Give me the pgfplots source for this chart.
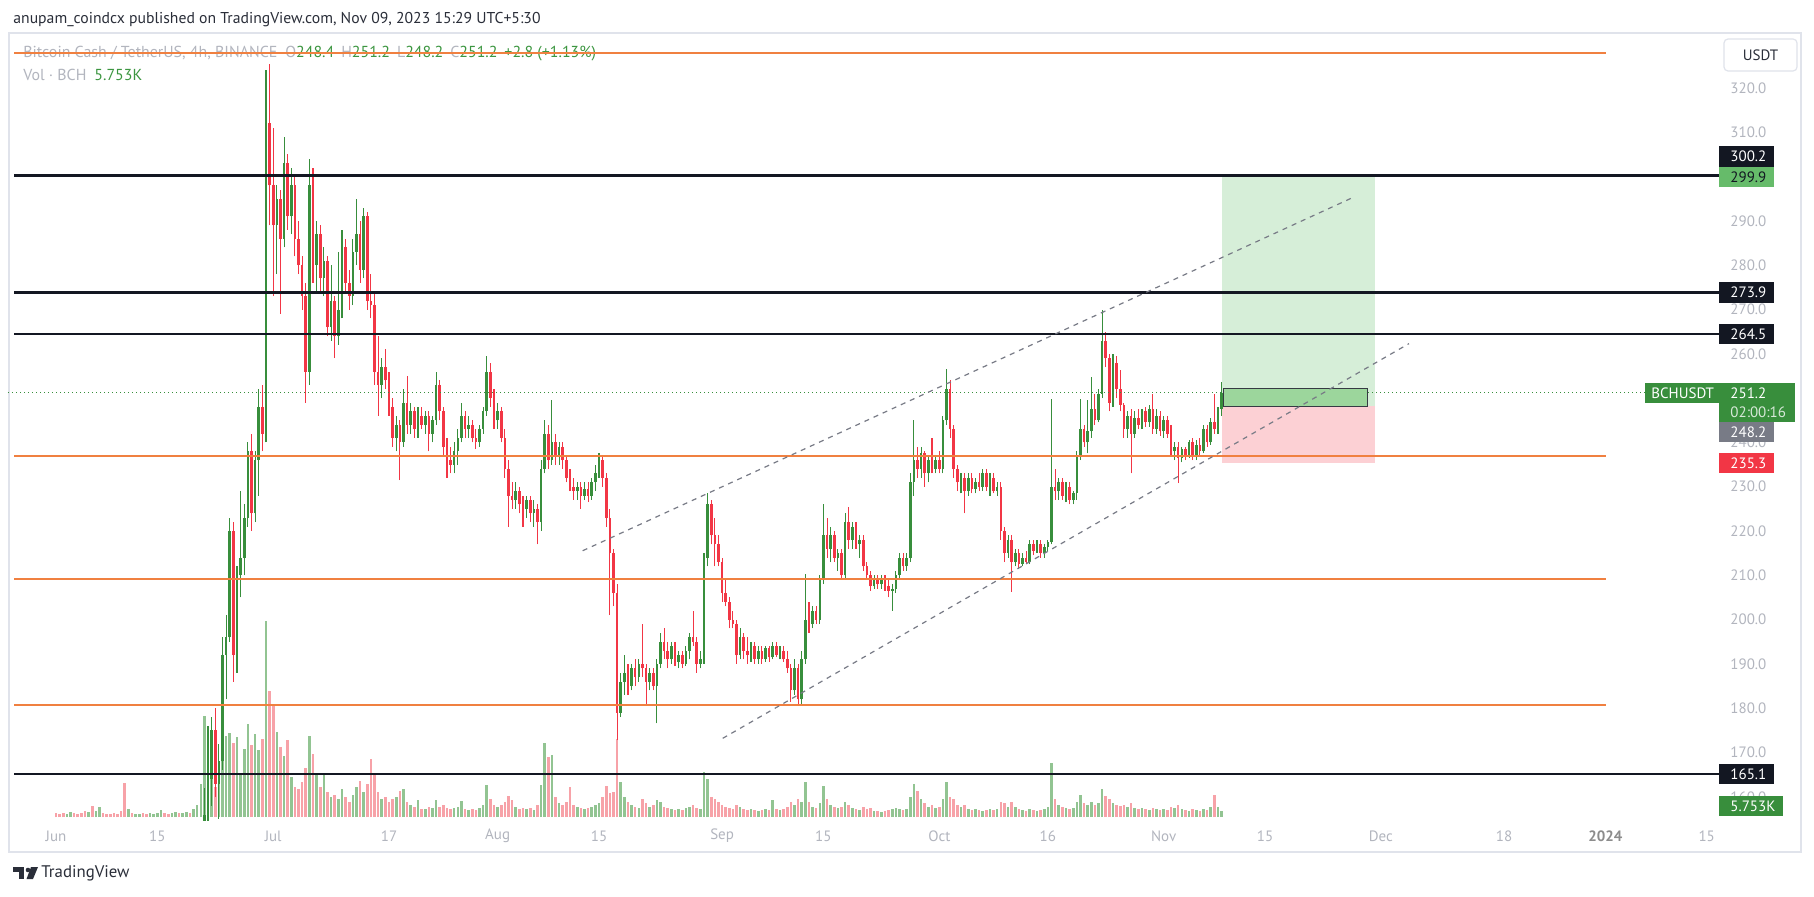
\documentclass[border=0pt]{standalone}
\usepackage{pgfplots}
\pgfplotsset{compat=1.18}
\usepackage{pgfplotstable}
\usepackage{fontspec}
\setmainfont{PT Sans}

\definecolor{cup}{RGB}{56,142,60}
\definecolor{cdn}{RGB}{242,54,69}
\definecolor{vup}{RGB}{146,196,146}
\definecolor{vdn}{RGB}{247,162,168}
\definecolor{lvlorange}{RGB}{240,128,64}
\definecolor{lvlblack}{RGB}{19,23,34}
\definecolor{tickc}{RGB}{178,181,190}
\definecolor{framec}{RGB}{224,227,235}
\definecolor{posg}{RGB}{214,238,216}
\definecolor{posr}{RGB}{252,208,212}
\definecolor{posd}{RGB}{156,214,156}
\definecolor{dashc}{RGB}{120,123,134}
\definecolor{lblgreen}{RGB}{102,187,106}
\definecolor{lblgray}{RGB}{120,123,134}
\definecolor{lblred}{RGB}{242,54,69}
\definecolor{pgreen}{RGB}{56,142,60}
\definecolor{hdr}{RGB}{42,46,57}
\definecolor{lg}{RGB}{60,150,64}

\pgfplotstableread{
d o h l c v
0 116 117 114 115 4
0.5 115 116 113 114 3
1 114 115 112 113 4
1.5 113 115 112 114 3
2 114 116 113 115 5
2.5 115 116 113 114 4
3 114 115 112 113 3
3.5 113 114 111 112 4
4 112 113 108 109 6
4.5 109 111 107 110 5
5 110 111 104 105 11
5.5 105 108 104 107 6
6 107 110 106 109 10
6.5 109 110 106 107 4
7 107 108 105 106 3
7.5 106 107 104 105 3
8 105 106 103 104 4
8.5 104 105 102 103 3
9 103 104 100 101 6
9.5 101 102 94 97 34
10 97 100 96 99 8
10.5 99 100 97 98 4
11 98 100 97 99 3
11.5 99 101 98 100 3
12 100 101 98 99 4
12.5 99 100 97 98 3
13 98 100 97 99 4
13.5 99 101 98 100 3
14 100 102 99 101 4
14.5 101 104 100 103 7
15 103 104 101 102 4
15.5 102 103 100 101 3
16 101 104 100 103 4
16.5 103 106 102 105 5
17 105 106 103 104 4
17.5 104 107 103 106 4
18 106 108 105 107 5
18.5 107 108 105 106 4
19 106 112 105 111 8
19.5 111 124 110 122 12
20 122 133 120 130 33
20.5 130 162 128 156 101
21 156 176 150 164 40
21.5 164 178 158 175 60
22 175 180 160 163 30
22.5 163 172 155 168 43
23 168 196 166 192 60
23.5 192 201 182 196 81
24 196 223 195 220 84
24.5 220 222 186 192 74
25 192 212 188 210 80
25.5 210 229 205 214 43
26 214 226 210 223 68
26.5 223 240 221 238 93
27 238 242 220 224 72
27.5 224 238 222 236 83
28 236 252 228 248 67
28.5 248 253 238 242 78
29 242 324 240 312 196
29.5 312 325.5 289 298 126
30 298 311 273 289 113
30.5 289 298 278 295 85
31 295 297 269 286 70
31.5 286 309 284 303 61
32 303 305 288 291 77
32.5 291 302 287 298 40
33 298 300 282 286 30
33.5 286 290 278 280 28
34 280 282 270 273 35
34.5 273 276 249 256 49
35 256 304 253 298 81
35.5 298 302 276 280 63
36 280 290 274 287 42
36.5 287 289 274 277 30
37 277 284 273 281 42
37.5 281 282 264 266 25
38 266 280 263 272 20
38.5 272 273 259 264 22
39 264 283 262 270 18
39.5 270 288 268 284 28
40 284 286 274 276 20
40.5 276 279 270 273 15
41 273 286 271 283 22
41.5 283 295 280 287 30
42 287 290 276 279 36
42.5 279 293 277 291 25
43 291 292 270 272 33
43.5 272 278 268 271 58
44 271 274 253 256 42
44.5 256 264 246 253 25
45 253 259 250 257 18
45.5 257 261 252 254 20
46 254 256 246 248 15
46.5 248 250 239 241 18
47 241 246 238 244 20
47.5 244 245 231.5 240 26
48 240 252 239 249 28
48.5 249 255 242 244 15
49 244 249 242 247 12
49.5 247 248 241 243 10
50 243 248 241 246 17
50.5 246 248 243 244 8
51 244 247 242 246 8
51.5 246 247 238 242 10
52 242 246 240 245 9
52.5 245 256 244 253 17
53 253 254 245 247 10
53.5 247 248 237 239 12
54 239 241 232 236 9
54.5 236 239 233 235 8
55 235 240 233 238 9
55.5 238 243 235 241 10
56 241 249 240 246 16
56.5 246 247 241 243 8
57 243 246 241 244 7
57.5 244 245 240 241 8
58 241 243 238.5 240 7
58.5 240 244 239 243 9
59 243 248 242 247 12
59.5 247 259.5 246 256 32
60 256 258 248 250 18
60.5 250 252 243 245 12
61 245 249 243 247 10
61.5 247 248 240 241 12
62 241 243 232 234 15
62.5 234 236 221 228 21
63 228 231 225 227 17
63.5 227 231 225 229 10
64 229 230 224 226 8
64.5 226 228 221 225 9
65 225 228 223 227 8
65.5 227 228 222 224 9
66 224 227 221 225 7
66.5 225 226 217 222 12
67 222 236 220 234 32
67.5 234 245 233 242 74
68 242 244 234 236 60
68.5 236 249.6 235 240 62
69 240 242 235 237 20
69.5 237 240 235 239 14
70 239 240 234 236 12
70.5 236 237 231 232 15
71 232 234 229 230 30
71.5 230 232 227 229 12
72 229 231 227 230 10
72.5 230 231 225 228 9
73 228 231 227 229.5 8
73.5 229.5 231 226.5 228 9
74 228 232 227 231 10
74.5 231 235 229 233 12
75 233 237.5 232 236 14
75.5 236 237 230 232 20
76 232 233 221 223 31
76.5 223 225 201 215 24
77 215 216 203 206 25
77.5 206 208 172.8 179 78
78 179 188 178 186 35
78.5 186 192 183 188 20
79 188 190 183 185 15
79.5 185 190 184 189 12
80 189 191 185 187 10
80.5 187 191 186 190 9
81 190 199 187 189 18
81.5 189 190 180.7 186 14
82 186 189 184 188 10
82.5 188 189 184 185 12
83 185 191 176.6 190 17
83.5 190 197 189 195 15
84 195 198 191 193 10
84.5 193 195 189 191 9
85 191 195 190 194 8
85.5 194 195 189.5 190.5 7
86 190.5 193 189 192 8
86.5 192 193 189 190 7
87 190 194 189.5 193 9
87.5 193 197 191 196 10
88 196 202 194 195 12
88.5 195 196 188 190 9
89 190 193 189 191 8
89.5 191 215 190 214 45
90 214 228.5 212 226 38
90.5 226 227 217 219 20
91 219 223 212 217 18
91.5 217 219 212 213 15
92 213 214 204 206 12
92.5 206 209 203 204 10
93 204 205 198 200 9
93.5 200 202 198 199 8
94 199 200 190 192 12
94.5 192 198 191 196 10
95 196 197 191 193 8
95.5 193 196 190 192 7
96 192 195 190.5 194 8
96.5 194 195 190 191 7
97 191 194 190 193 6
97.5 193 194 190 191 7
98 191 194 190.5 193.5 8
98.5 193.5 194 190.5 191.5 7
99 191.5 195 191 194 17
99.5 194 195 191.5 192 8
100 192 194 191 193 7
100.5 193 194 190.5 191 8
101 191 193 188 189 10
101.5 189 190 181.5 184 15
102 184 191 183 189 12
102.5 189 190 180.7 182 18
103 182 193 181 191 15
103.5 191 210.4 190 200 35
104 200 204 197 199 15
104.5 199 203 198 202 10
105 202 203 199 200 9
105.5 200 210 199 209 14
106 209 226 208 219 31
106.5 219 223 214 216 18
107 216 221 213 219 12
107.5 219 220 213 214 10
108 214 216 211 215 9
108.5 215 216 209 210 10
109 210 224 209 222 15
109.5 222 225.5 216 218 12
110 218 222 216 221 9
110.5 221 222 216 217 8
111 217 219 214 218 7
111.5 218 219 211 212 10
112 212 213 209 210 8
112.5 210 211 206.5 207.5 9
113 207.5 210 207 209.5 6
113.5 209.5 210 207 208 6
114 208 210 207 209 5
114.5 209 210 206.5 207.5 6
115 207.5 209 205 206.5 7
115.5 206.5 208 202 207 8
116 207 211 206 210 9
116.5 210 215 209 214 8
117 214 215 211 212 7
117.5 212 215 211 214 8
118 214 233 213 231 20
118.5 231 245 228 236 33
119 236 239 232 234 26
119.5 234 239 232 237.5 18
120 237.5 238 230 233 14
120.5 233 237 231 236 10
121 236 241 233 234 12
121.5 234 237 233 236 9
122 236 238 233 234 10
122.5 234 246 233 245 18
123 245 256.6 244 252 35
123.5 252 254 241 243 20
124 243 244 232 234 18
124.5 234 235 229 231 12
125 231 233 228.5 232 10
125.5 232 233 224 229 12
126 229 233 228 232 8
126.5 232 233 228.5 229.5 7
127 229.5 232 228.5 231 8
127.5 231 233 229 230 7
128 230 234 229 233 6
128.5 233 234 229 230 7
129 230 233 228 232 8
129.5 232 233 228.5 229 7
130 229 231 228 230 8
130.5 230 231 218 220 15
131 220 221 213 215 14
131.5 215 219 214 218 10
132 218 219 206.3 213 15
132.5 213 216 212 215 10
133 215 216 211.5 212.5 8
133.5 212.5 215 212 214 7
134 214 215.5 212.5 213 6
134.5 213 218 212.5 217 8
135 217 218 214.5 215.5 7
135.5 215.5 218 215 217 6
136 217 218 214 215 7
136.5 215 217 214 216.5 8
137 216.5 218 215.5 217.5 10
137.5 217.5 249.7 217 230 54
138 230 234 227 229 18
138.5 229 232 227 231 12
139 231 232 227 228 10
139.5 228 231 226.5 230 9
140 230 231 226 227 8
140.5 227 229 226 228.5 9
141 228.5 238 227 237 15
141.5 237 249.7 236 243 22
142 243 244 239 240 14
142.5 240 249.6 237.5 242.5 12
143 242.5 254.8 241 247.5 15
143.5 247.5 251 244 245 12
144 245 252 244.5 251 14
144.5 251 269.9 250 263 28
145 263 265 257 259 21
145.5 259 260 247 249 18
146 249 260 248 258 14
146.5 258 259.5 250 252 12
147 252 256.3 247 248.5 11
147.5 248.5 249 241 243 12
148 243 247 241 246 10
148.5 246 247.5 233 242 14
149 242 247 241 245.5 9
149.5 245.5 247.5 243 244 8
150 244 247.5 243 247 9
150.5 247 248 243.5 244.5 8
151 244.5 248.5 243.5 247.5 7
151.5 247.5 251 242 243 9
152 243 247.5 242 246 8
152.5 246 247 241.5 242.5 7
153 242.5 246 241 245 8
153.5 245 246 241 242 7
154 242 244 237 238 10
154.5 238 240 236 239 9
155 239 240 230.8 236.5 12
155.5 236.5 239 235.5 238.5 8
156 238.5 239 236 237 7
156.5 237 240.5 236.5 240 6
157 240 241 236 237 8
157.5 237 240.5 236 239.5 7
158 239.5 241 237 238 6
158.5 238 244 237.5 243 8
159 243 244 239 240 7
159.5 240 245.5 239.5 244.5 10
160 244.5 251 242 243 22
160.5 243 248 242 247.5 10
161 247.5 253.6 246 251.2 5.753
}\candles

\begin{document}
\begin{tikzpicture}
% ---------- background, frame, header, legend (pixel scope) ----------
\begin{scope}[shift={(0pt,448pt)}, x=0.5pt, y=-0.5pt]
\fill[white] (0,0) rectangle (1814,896);
\draw[framec, line width=1pt] (9,33.5) rectangle (1801,852);
\node[anchor=west, inner sep=0, text=hdr, font=\fontsize{7.85}{9}\selectfont] at (13,20)
  {anupam\_coindcx published on TradingView.com, Nov 09, 2023 15:29 UTC+5:30};
\node[anchor=west, inner sep=0, font=\fontsize{7.95}{9}\selectfont] at (23,53.3)
  {\textcolor{tickc}{Bitcoin Cash / TetherUS, 4h, BINANCE}\hspace{4pt}\textcolor{tickc}{O}\textcolor{lg}{248.4}\hspace{3.5pt}\textcolor{tickc}{H}\textcolor{lg}{251.2}\hspace{3.5pt}\textcolor{tickc}{L}\textcolor{lg}{248.2}\hspace{3.5pt}\textcolor{tickc}{C}\textcolor{lg}{251.2}\hspace{3.5pt}\textcolor{lg}{+2.8 (+1.13\%)}};
\node[anchor=west, inner sep=0, font=\fontsize{7.95}{9}\selectfont] at (23,75)
  {\textcolor{tickc}{Vol · BCH}\hspace{4pt}\textcolor{lg}{5.753K}};
\end{scope}

% ---------- volume pane ----------
\begin{axis}[at={(4pt,38pt)}, anchor=south west, scale only axis,
  width=855.5pt, height=393.5pt, xmin=-6.63, xmax=229.70, ymin=-3, ymax=784,
  hide axis, clip=true]
\addplot[vup, line width=1.3pt, quiver={u=0, v=\thisrow{v}},
  x filter/.expression={\thisrow{c}>=\thisrow{o} ? x : nan}]
  table[x=d, y expr=0] {\candles};
\addplot[vdn, line width=1.3pt, quiver={u=0, v=\thisrow{v}},
  x filter/.expression={\thisrow{c}<\thisrow{o} ? x : nan}]
  table[x=d, y expr=0] {\candles};
\end{axis}

% ---------- price pane ----------
\begin{axis}[at={(4pt,38pt)}, anchor=south west, scale only axis,
  width=855.5pt, height=393.5pt, xmin=-6.63, xmax=229.70, ymin=154.76, ymax=332.42,
  hide axis, clip=true]
% position tool
\addplot[fill=posg, draw=none] coordinates {(161.05,248.2) (182.2,248.2) (182.2,299.9) (161.05,299.9)};
\addplot[fill=posr, draw=none] coordinates {(161.05,235.3) (182.2,235.3) (182.2,248.2) (161.05,248.2)};
% candles: wicks
\addplot[cup, line width=0.55pt, quiver={u=0, v=\thisrow{h}-\thisrow{l}},
  x filter/.expression={\thisrow{c}>=\thisrow{o} ? x : nan}]
  table[x=d, y=l] {\candles};
\addplot[cdn, line width=0.55pt, quiver={u=0, v=\thisrow{h}-\thisrow{l}},
  x filter/.expression={\thisrow{c}<\thisrow{o} ? x : nan}]
  table[x=d, y=l] {\candles};
% candles: bodies
\addplot[cup, line width=1.3pt, quiver={u=0, v=\thisrow{c}-\thisrow{o}},
  x filter/.expression={\thisrow{c}>=\thisrow{o} ? x : nan}]
  table[x=d, y=o] {\candles};
\addplot[cdn, line width=1.3pt, quiver={u=0, v=\thisrow{o}-\thisrow{c}},
  x filter/.expression={\thisrow{c}<\thisrow{o} ? x : nan}]
  table[x=d, y=c] {\candles};
% orange levels
\addplot[lvlorange, line width=1pt] coordinates {(-5.8,327.9) (214.1,327.9)};
\addplot[lvlorange, line width=1pt] coordinates {(-5.8,236.9) (214.1,236.9)};
\addplot[lvlorange, line width=1pt] coordinates {(-5.8,209.1) (214.1,209.1)};
\addplot[lvlorange, line width=1pt] coordinates {(-5.8,180.7) (214.1,180.7)};
% black levels
\addplot[lvlblack, line width=1.35pt] coordinates {(-5.8,300.2) (229.7,300.2)};
\addplot[lvlblack, line width=1.35pt] coordinates {(-5.8,273.9) (229.7,273.9)};
\addplot[lvlblack, line width=1.35pt] coordinates {(-5.8,264.5) (229.7,264.5)};
\addplot[lvlblack, line width=1.1pt] coordinates {(-5.8,165.1) (229.7,165.1)};
% last price dotted line
\addplot[pgreen, line width=0.5pt, dash pattern=on 0.5pt off 1.5pt] coordinates {(-6.63,251.2) (219.5,251.2)};
% profit rectangle
\addplot[fill=posd, draw=lvlblack!85, line width=0.5pt] coordinates {(161.2,248.2) (181.1,248.2) (181.1,252.25) (161.2,252.25) (161.2,248.2)};
% channel
\addplot[dashc, line width=0.6pt, dash pattern=on 2.5pt off 2.5pt] coordinates {(72.75,215.55) (179.28,295.40)};
\addplot[dashc, line width=0.6pt, dash pattern=on 2.5pt off 2.5pt] coordinates {(92.09,173.20) (186.88,262.30)};
\end{axis}

% ---------- scales and labels (pixel scope) ----------
\begin{scope}[shift={(0pt,448pt)}, x=0.5pt, y=-0.5pt,
  tl/.style={anchor=west, inner sep=0, text=tickc, font=\fontsize{7.5}{9}\selectfont},
  bl/.style={anchor=west, inner sep=0, font=\fontsize{7.5}{9}\selectfont},
  xl/.style={anchor=center, inner sep=0, text=tickc, font=\fontsize{7.5}{9}\selectfont}]
% price ticks (300.0 and 250.0 lie fully under the price boxes)
\foreach \p/\Y in {320.0/88.1, 310.0/132.4, 290.0/220.9, 280.0/265.2, 270.0/309.5,
  260.0/353.8, 240.0/442.4, 230.0/486.7, 220.0/531.0, 210.0/575.3, 200.0/619.6,
  190.0/663.9, 180.0/708.2, 170.0/752.5, 160.0/796.8}
  {\node[tl] at (1730,\Y) {\p};}
% USDT button
\draw[framec, line width=0.6pt, rounded corners=2pt] (1724,39) rectangle (1797,71);
\node[anchor=center, inner sep=0, text=hdr, font=\fontsize{7.5}{9}\selectfont] at (1760.5,55) {USDT};
% price boxes
\fill[lvlblack] (1719,146) rectangle (1774,167); \node[bl, text=white] at (1730,156.5) {300.2};
\fill[lblgreen] (1719,167) rectangle (1774,187); \node[bl, text=lvlblack] at (1730,177) {299.9};
\fill[lvlblack] (1719,282) rectangle (1774,303); \node[bl, text=white] at (1730,292.5) {273.9};
\fill[lvlblack] (1719,324) rectangle (1774,344); \node[bl, text=white] at (1730,334) {264.5};
\fill[pgreen] (1645,383) rectangle (1719,403); \node[bl, text=white] at (1651,393) {BCHUSDT};
\fill[pgreen] (1719,383) rectangle (1795,422);
\node[bl, text=white] at (1730,393) {251.2};
\node[bl, text=white!80!pgreen] at (1730,412) {02:00:16};
\fill[lblgray] (1719,422) rectangle (1774,442); \node[bl, text=white] at (1730,432) {248.2};
\fill[lblred] (1719,453) rectangle (1774,473); \node[bl, text=white] at (1730,463) {235.3};
\fill[lvlblack] (1719,764) rectangle (1774,784); \node[bl, text=white] at (1730,774) {165.1};
\fill[pgreen] (1719,796) rectangle (1783,816); \node[bl, text=white] at (1730,806) {5.753K};
% time axis
\foreach \t/\X in {Jun/56, 15/157.4, Jul/273.2, 17/389.0, Aug/497.6, 15/599.0, Sep/722.1,
  15/823.4, Oct/939.3, 16/1047.9, Nov/1163.7, 15/1265.1, Dec/1380.9, 18/1504.0, 15/1706.7}
  {\node[xl] at (\X,836) {\t};}
\node[xl, text=black!45, font=\fontsize{7.5}{9}\selectfont\bfseries] at (1605.4,836) {2024};
% TradingView logo
\fill[hdr] (13,867) rectangle (24,871.5);
\fill[hdr] (18.5,867) rectangle (24,879);
\fill[hdr] (28,870) circle (2.3);
\fill[hdr] (31,867) -- (38,867) -- (33,879) -- (26.5,879) -- cycle;
\node[anchor=west, inner sep=0, text=hdr, font=\fontsize{8.4}{10}\selectfont] at (41,873) {TradingView};
\end{scope}
\end{tikzpicture}
\end{document}
